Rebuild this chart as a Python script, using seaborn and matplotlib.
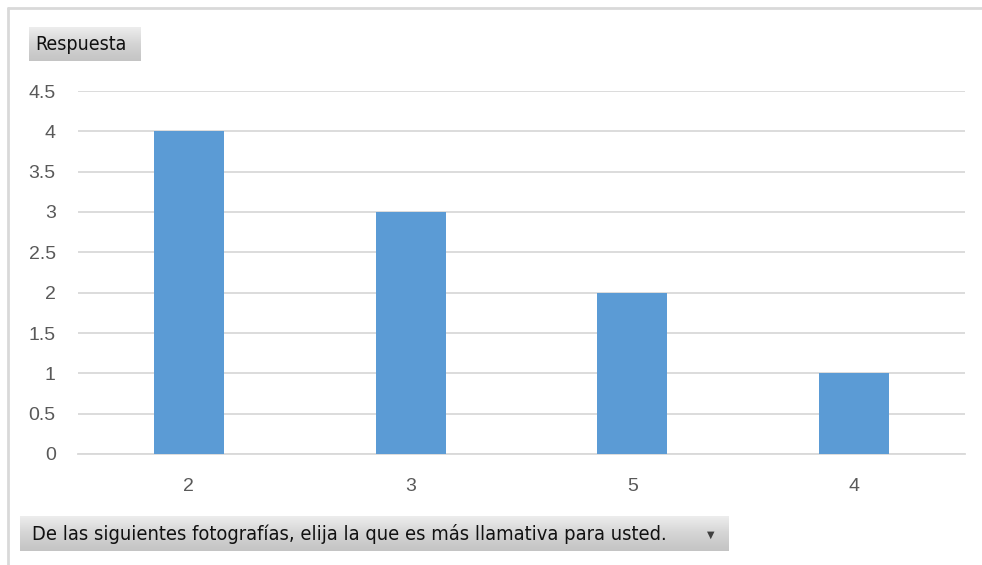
import numpy as np
import pandas as pd
import matplotlib
matplotlib.use("Agg")
import matplotlib.pyplot as plt
import seaborn as sns
from matplotlib.lines import Line2D

# Response counts per chosen photograph
categories = ["2", "3", "5", "4"]
counts = [4, 3, 2, 1]
y_ticks = [0, 0.5, 1, 1.5, 2, 2.5, 3, 3.5, 4, 4.5]
y_tick_labels = ["0", "0.5", "1", "1.5", "2", "2.5", "3", "3.5", "4", "4.5"]
field_label = "Respuesta"
axis_field_label = "De las siguientes fotografías, elija la que es más llamativa para usted."

df = pd.DataFrame({"cat": categories, "count": counts})

sns.set_theme(style="white")
plt.rcParams["font.family"] = ["Liberation Sans", "DejaVu Sans"]

W, H = 982, 565
fig = plt.figure(figsize=(W / 100, H / 100), dpi=100)
fig.patch.set_facecolor("white")

# Outer chart frame (top and left edges)
fig.add_artist(Line2D([8 / W, 1], [1 - 8 / H, 1 - 8 / H], color="#D9D9D9", lw=2))
fig.add_artist(Line2D([8 / W, 8 / W], [0, 1 - 8 / H], color="#D9D9D9", lw=2))

ax = fig.add_axes([78 / W, 1 - 454 / H, (965 - 78) / W, (454 - 91) / H])
sns.barplot(data=df, x="cat", y="count", order=categories, color="#5B9BD5",
            saturation=1, width=0.315, linewidth=0, ax=ax, zorder=3)
ax.set_xlim(-0.5, len(categories) - 0.5)
ax.set_ylim(0, 4.5)
ax.set_yticks(y_ticks)
ax.set_yticklabels(y_tick_labels)
ax.yaxis.grid(True, color="#D9D9D9", lw=1.3, zorder=0)
ax.set_axisbelow(True)
for s in ["top", "right", "left"]:
    ax.spines[s].set_visible(False)
ax.spines["bottom"].set_color("#D9D9D9")
ax.spines["bottom"].set_linewidth(1.3)
ax.set_xlabel("")
ax.set_ylabel("")
ax.tick_params(axis="both", length=0, labelsize=14, labelcolor="#595959")
ax.tick_params(axis="y", pad=16)
ax.tick_params(axis="x", pad=17)


def field_button(x0, y0, x1, y1, text, size, inset, arrow=False):
    bax = fig.add_axes([x0 / W, 1 - y1 / H, (x1 - x0) / W, (y1 - y0) / H])
    grad = np.linspace(0, 1, 64).reshape(-1, 1)
    cmap = matplotlib.colors.LinearSegmentedColormap.from_list(
        "btn", ["#EDEDED", "#D4D4D4", "#C4C4C4"])
    bax.imshow(grad, aspect="auto", cmap=cmap, extent=[0, 1, 0, 1], origin="upper")
    bax.set_xlim(0, 1)
    bax.set_ylim(0, 1)
    bax.axis("off")
    bax.text(inset / (x1 - x0), 0.5, text, ha="left", va="center", fontsize=size,
             color="#111111", family=["DejaVu Sans"], fontstretch="condensed")
    if arrow:
        bax.text(1 - 18 / (x1 - x0), 0.45, "▼", ha="center", va="center",
                 fontsize=7, color="#404040", family=["DejaVu Sans"])


field_button(29, 27, 141, 61, field_label, 14, 6)
field_button(20, 516, 729, 551, axis_field_label, 14.4, 12, arrow=True)

fig.savefig("out.png", dpi=100, facecolor="white")
